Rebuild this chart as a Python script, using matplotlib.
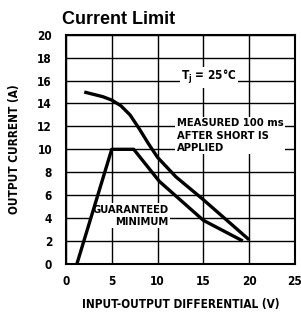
import matplotlib
matplotlib.use("Agg")
import matplotlib.pyplot as plt

# measured 100 ms after short is applied
meas_v = [2, 4, 5, 6, 7, 8, 9, 10, 12, 15, 20]
meas_i = [15.0, 14.6, 14.3, 13.8, 13.0, 11.8, 10.5, 9.3, 7.6, 5.6, 2.1]

# guaranteed minimum
gmin_v = [1.2, 5.0, 7.4, 10.2, 15.0, 19.3]
gmin_i = [0.0, 10.0, 10.0, 7.2, 3.8, 2.0]

xticks = [0, 5, 10, 15, 20, 25]
yticks = [0, 2, 4, 6, 8, 10, 12, 14, 16, 18, 20]

cond = dict(family=["DejaVu Sans"], fontweight="bold", fontstretch="condensed")
box = dict(facecolor="white", edgecolor="none", pad=1)

fig = plt.figure(figsize=(3.01, 3.16), dpi=100)
ax = fig.add_axes([0.219, 0.165, 0.761, 0.725])

ax.set_xlim(0, 25)
ax.set_ylim(0, 20)
ax.set_xticks(xticks)
ax.set_yticks(yticks)
ax.set_xticklabels([str(t) for t in xticks], fontsize=8.5, **cond)
ax.set_yticklabels([str(t) for t in yticks], fontsize=8.5, **cond)
ax.tick_params(axis="x", length=0, pad=8)
ax.tick_params(axis="y", length=0, pad=10)
ax.grid(True, color="black", linewidth=1.0, zorder=0)
ax.set_axisbelow(True)
for s in ax.spines.values():
    s.set_linewidth(1.5)

ax.plot(meas_v, meas_i, color="black", linewidth=2.4, zorder=4, solid_capstyle="butt")
ax.plot(gmin_v, gmin_i, color="black", linewidth=2.4, zorder=4, solid_capstyle="butt")

ax.text(15.6, 16.3, r"T$_\mathregular{j}$ = 25°C", ha="center", va="center",
        fontsize=8.5, bbox=box, zorder=3, **cond)
ax.text(12.1, 11.2, "MEASURED 100 ms\nAFTER SHORT IS\nAPPLIED", ha="left", va="center",
        fontsize=8, linespacing=1.3, bbox=box, zorder=3, **cond)
ax.text(11.2, 4.2, "GUARANTEED\nMINIMUM", ha="right", va="center",
        fontsize=8, linespacing=1.3, multialignment="right", bbox=box, zorder=3, **cond)

ax.set_xlabel("INPUT-OUTPUT DIFFERENTIAL (V)", fontsize=8.5, labelpad=7, **cond)
ax.set_ylabel("OUTPUT CURRENT (A)", fontsize=8.5, labelpad=12, **cond)
fig.text(0.206, 0.925, "Current Limit", fontsize=13, fontweight="bold",
         family=["Liberation Sans", "DejaVu Sans"], ha="left", va="baseline")

fig.savefig("out.png", dpi=100)
